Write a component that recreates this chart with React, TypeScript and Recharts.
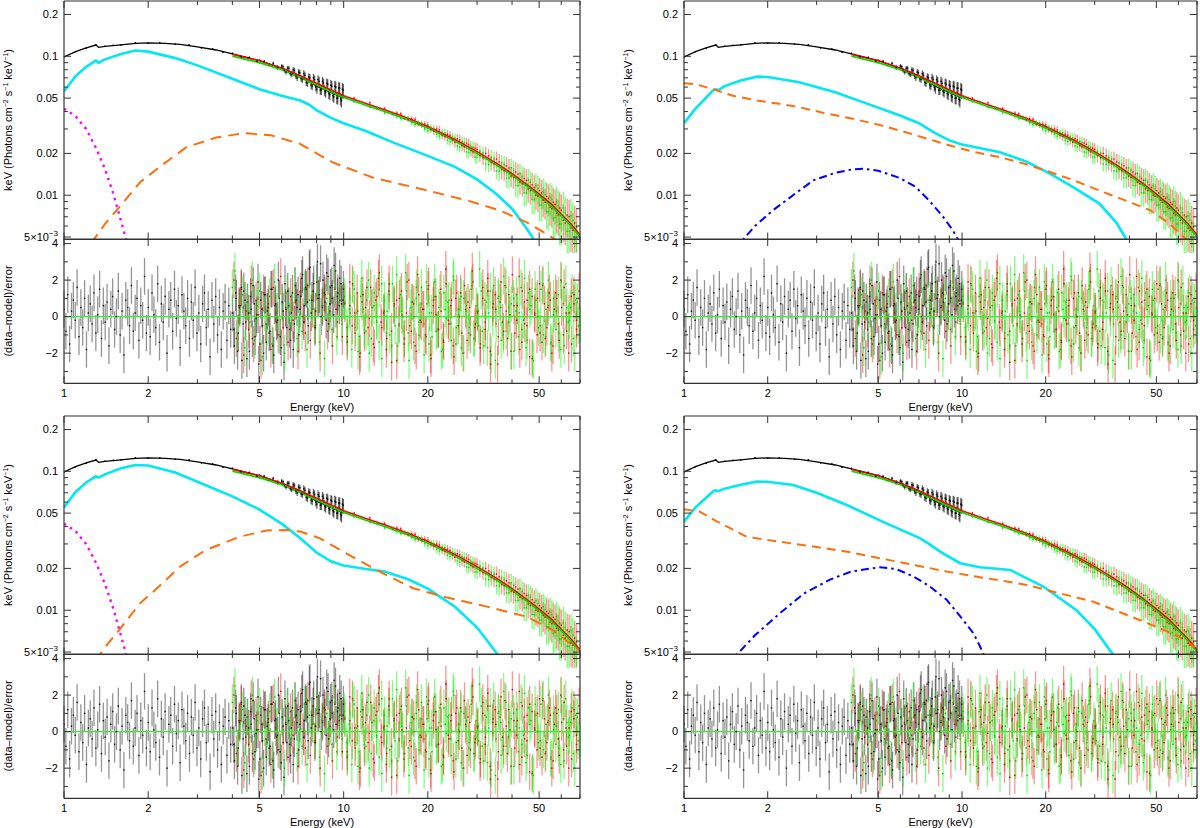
import React from 'react';
import { ComposedChart, Line, Scatter, ErrorBar, XAxis, YAxis, ReferenceLine } from 'recharts';

const FONT = '"Liberation Sans", Arial, Helvetica, sans-serif';
const AXIS = '#333';

// axis ticks
const xMajor = [1, 2, 5, 10, 20, 50];
const xMinor = [3, 4, 6, 7, 8, 9, 30, 40, 60, 70];
const specMajor = [0.005, 0.01, 0.02, 0.05, 0.1, 0.2];
const specMinor = [0.006, 0.007, 0.008, 0.009, 0.03, 0.04, 0.06, 0.07, 0.08, 0.09];
const resMajor = [-2, 0, 2, 4];
const resMinor = [-3, -1, 1, 3];

// total models (black instrument 1-10 keV, red / green 4-70 keV)
const blackModelE = [1.0, 1.1, 1.2, 1.3, 1.33, 1.4, 1.6, 1.8, 2.0, 2.3, 2.6, 3.0, 3.5, 4.0, 4.5, 5.0, 5.5, 6.0, 6.5, 7.0, 7.5, 8.0, 9.0, 10.0];
const blackModelF = [0.099, 0.108, 0.115, 0.1205, 0.116, 0.118, 0.121, 0.124, 0.125, 0.124, 0.122, 0.117, 0.111, 0.104, 0.098, 0.093, 0.087, 0.082, 0.077, 0.072, 0.066, 0.061, 0.055, 0.050];
const nuModelE = [4.0, 5, 6, 7, 8, 9, 10, 12, 14, 17, 20, 25, 30, 35, 40, 45, 50, 55, 60, 65, 70];
const greenModelF = [0.100, 0.090, 0.080, 0.070, 0.062, 0.0555, 0.0505, 0.0445, 0.040, 0.0348, 0.0303, 0.0245, 0.0200, 0.0166, 0.0139, 0.0117, 0.0099, 0.0084, 0.0071, 0.0060, 0.0050];
const redModelF = [0.103, 0.093, 0.082, 0.072, 0.064, 0.0572, 0.052, 0.0458, 0.0412, 0.0358, 0.0312, 0.0252, 0.0206, 0.0171, 0.0143, 0.0120, 0.0102, 0.0087, 0.0073, 0.0062, 0.0052];

// unfolded spectra (upper panels)
const blackSpecE = [1.0, 1.1, 1.2, 1.3, 1.4, 1.5, 1.6, 1.8, 2.0, 2.2, 2.5, 2.8, 3.1, 3.4, 3.7, 4.0, 4.3, 4.6, 4.9, 5.2, 5.4, 5.6, 5.8, 6.0, 6.15, 6.3, 6.45, 6.6, 6.75, 6.9, 7.05, 7.2, 7.35, 7.5, 7.65, 7.8, 7.95, 8.1, 8.25, 8.4, 8.55, 8.7, 8.85, 9.0, 9.15, 9.3, 9.45, 9.6, 9.75, 9.9];
const blackSpecF = [0.099, 0.108, 0.114, 0.121, 0.118, 0.120, 0.121, 0.125, 0.124, 0.125, 0.122, 0.121, 0.115, 0.113, 0.107, 0.105, 0.099, 0.098, 0.092, 0.092, 0.087, 0.089, 0.083, 0.085, 0.079, 0.082, 0.075, 0.080, 0.072, 0.077, 0.069, 0.075, 0.065, 0.071, 0.062, 0.070, 0.060, 0.068, 0.057, 0.066, 0.056, 0.064, 0.054, 0.062, 0.052, 0.061, 0.050, 0.059, 0.049, 0.058];
const blackRelErr = [0.006, 0.006, 0.006, 0.006, 0.006, 0.006, 0.006, 0.007, 0.007, 0.008, 0.008, 0.009, 0.010, 0.011, 0.012, 0.014, 0.016, 0.018, 0.020, 0.024, 0.026, 0.028, 0.030, 0.034, 0.036, 0.040, 0.042, 0.045, 0.048, 0.050, 0.053, 0.056, 0.060, 0.062, 0.065, 0.068, 0.070, 0.072, 0.075, 0.078, 0.080, 0.083, 0.086, 0.088, 0.090, 0.093, 0.096, 0.10, 0.10, 0.11];
const blackSpecE2 = [6.07, 6.22, 6.37, 6.52, 6.67, 6.82, 6.97, 7.12, 7.27, 7.42, 7.57, 7.72, 7.87, 8.02, 8.17, 8.32, 8.47, 8.62, 8.77, 8.92, 9.07, 9.22, 9.37, 9.52, 9.67, 9.82, 9.97];
const blackSpecF2 = [0.084, 0.077, 0.082, 0.074, 0.079, 0.070, 0.076, 0.068, 0.073, 0.064, 0.070, 0.061, 0.068, 0.058, 0.066, 0.057, 0.064, 0.055, 0.063, 0.053, 0.061, 0.051, 0.060, 0.050, 0.059, 0.048, 0.057];
const blackRelErr2 = [0.035, 0.038, 0.041, 0.044, 0.047, 0.05, 0.052, 0.055, 0.058, 0.061, 0.064, 0.067, 0.07, 0.072, 0.075, 0.078, 0.08, 0.083, 0.086, 0.088, 0.09, 0.093, 0.096, 0.1, 0.1, 0.11, 0.11];

const nuSpecE = [4.1, 4.4, 4.7, 5.0, 5.4, 5.8, 6.2, 6.6, 7.0, 7.5, 8.0, 8.5, 9.0, 9.6, 10.2, 10.9, 11.6, 12.4, 13.2, 14.0, 15, 16, 17, 18, 19, 20, 21, 22, 23, 24, 25, 26, 27, 28, 29, 30, 31.5, 33, 34.5, 36, 37.5, 39, 40.5, 42, 43.5, 45, 46.5, 48, 49.5, 51, 52.5, 54, 55.5, 57, 58.5, 60, 62, 64, 66, 68];
const greenSpecF = [0.100, 0.095, 0.094, 0.089, 0.087, 0.081, 0.079, 0.073, 0.071, 0.065, 0.063, 0.0578, 0.0562, 0.0518, 0.0508, 0.0472, 0.0468, 0.0430, 0.0426, 0.0391, 0.0390, 0.0356, 0.0359, 0.0322, 0.0330, 0.0291, 0.0302, 0.0266, 0.0281, 0.0243, 0.0258, 0.0222, 0.0240, 0.0203, 0.0221, 0.0188, 0.0201, 0.0166, 0.0182, 0.0148, 0.0166, 0.0133, 0.0151, 0.0117, 0.0136, 0.0104, 0.0124, 0.0093, 0.0112, 0.0085, 0.0101, 0.0076, 0.0093, 0.0069, 0.0084, 0.0062, 0.0075, 0.0055, 0.0066, 0.0048];
const redSpecF = [0.103, 0.099, 0.095, 0.094, 0.088, 0.085, 0.080, 0.077, 0.072, 0.069, 0.063, 0.0612, 0.0566, 0.0548, 0.0512, 0.0501, 0.0469, 0.0462, 0.0423, 0.0421, 0.0386, 0.0385, 0.0350, 0.0352, 0.0320, 0.0320, 0.0290, 0.0295, 0.0265, 0.0270, 0.0240, 0.0250, 0.0223, 0.0232, 0.0205, 0.0214, 0.0186, 0.0192, 0.0168, 0.0174, 0.0150, 0.0157, 0.0134, 0.0142, 0.0121, 0.0128, 0.0108, 0.0114, 0.0098, 0.0104, 0.0089, 0.0095, 0.0080, 0.0086, 0.0072, 0.0078, 0.0063, 0.0070, 0.0056, 0.0059];
const nuRelErr = [0.012, 0.012, 0.012, 0.012, 0.013, 0.013, 0.014, 0.014, 0.015, 0.015, 0.016, 0.017, 0.018, 0.019, 0.02, 0.022, 0.024, 0.026, 0.028, 0.03, 0.033, 0.036, 0.04, 0.045, 0.05, 0.055, 0.06, 0.065, 0.07, 0.075, 0.08, 0.085, 0.09, 0.095, 0.10, 0.105, 0.11, 0.12, 0.13, 0.14, 0.15, 0.16, 0.17, 0.18, 0.19, 0.20, 0.21, 0.22, 0.23, 0.24, 0.25, 0.26, 0.27, 0.28, 0.29, 0.30, 0.31, 0.32, 0.33, 0.34];
const nuSpecE2 = [15.5, 16.5, 17.5, 18.5, 19.5, 20.5, 21.5, 22.5, 23.5, 24.5, 25.5, 26.5, 27.5, 28.5, 29.5, 30.7, 32.2, 33.7, 35.2, 36.7, 38.2, 39.7, 41.2, 42.7, 44.2, 45.7, 47.2, 48.7, 50.2, 51.7, 53.2, 54.7, 56.2, 57.7, 59.2, 61, 63, 65, 67];
const greenSpecF2 = [0.0368, 0.0364, 0.0333, 0.0333, 0.0301, 0.0305, 0.0275, 0.0282, 0.0249, 0.0262, 0.0226, 0.0243, 0.0205, 0.0224, 0.0188, 0.0207, 0.0168, 0.0187, 0.0150, 0.0171, 0.0133, 0.0158, 0.0118, 0.0143, 0.0104, 0.0128, 0.0093, 0.0117, 0.0085, 0.0106, 0.0076, 0.0097, 0.0068, 0.0090, 0.0062, 0.0081, 0.0055, 0.0071, 0.0049];
const redSpecF2 = [0.0390, 0.0360, 0.0356, 0.0326, 0.0325, 0.0298, 0.0300, 0.0272, 0.0275, 0.0250, 0.0255, 0.0228, 0.0237, 0.0210, 0.0218, 0.0193, 0.0200, 0.0172, 0.0182, 0.0153, 0.0163, 0.0137, 0.0147, 0.0124, 0.0132, 0.0111, 0.0119, 0.0100, 0.0108, 0.0092, 0.0098, 0.0082, 0.0089, 0.0074, 0.0081, 0.0066, 0.0072, 0.0058, 0.0063];
const nuRelErr2 = [0.034, 0.038, 0.042, 0.047, 0.052, 0.057, 0.062, 0.067, 0.072, 0.077, 0.082, 0.087, 0.092, 0.097, 0.10, 0.107, 0.115, 0.125, 0.135, 0.145, 0.155, 0.165, 0.175, 0.185, 0.195, 0.205, 0.215, 0.225, 0.235, 0.245, 0.255, 0.265, 0.275, 0.285, 0.295, 0.305, 0.315, 0.325, 0.335];

// residuals (data-model)/error, bins spread over each band
const blackBand = [1.0, 9.95];
const blackBand2 = [4.05, 9.98];
const redBand = [4.05, 68];
const redBand2 = [10.3, 69.5];
const greenBand = [4.0, 69];
const greenBand2 = [10.1, 70];
const blackResid = [
  0.4, -0.8, 1.2, -1.5, 0.3, 0.9, -0.2, 1.6, -1.1, 0.5, -0.6, 1.0, -1.8, 0.2, 0.7, -0.4, 1.3, -0.9, 0.1, 1.5, -1.2, 0.6, -0.3, 0.8, -1.6, 0.4, 1.1, -0.7, 0.0, 1.4, -1.0, 0.3, -2.1, 0.9, 0.5, -0.5, 1.7, -0.8, 0.2, 1.0, -1.3, 0.6, -0.2, 2.2, -0.9,
  0.5, -1.1, 1.3, 0.1, -0.6, 1.8, -1.4, 0.7, -0.3, 1.1, -2.0, 0.4, 0.9, -0.8, 1.5, -0.1, 0.6, -1.7, 1.2, 0.3, -0.5, 1.0, -1.2, 0.8, -0.2, 1.6, -0.9, 0.2, -1.5, 0.7, 1.3, -0.6, 0.4, -2.2, 0.9, -0.4, 1.1, -1.0, 0.5, -1.8, 0.3, 0.8, -1.3, 0.6, -0.7,
  0.2, -1.6, 1.0, -0.9, 0.6, -2.4, 1.4, -0.3, 0.8, -1.9, 0.4, 1.7, -1.1, 0.1, -2.6, 0.9, -0.5, 1.2, -1.4, 0.5, -0.8, 1.5, -2.1, 0.7, -0.2, 1.0, -1.7, 0.3, 1.8, -0.6, 0.6, -1.3, 1.3, -0.4, 0.9,
  1.2, 0.4, 2.1, -0.3, 1.6, 0.8, 2.6, 0.2, 1.4, -0.6, 1.9, 1.0, 2.9, 0.5, 1.3, -0.2, 2.2, 0.7, 1.7, 0.1, 2.5, 1.1, 0.6, 1.8, 0.9,
];
const blackResid2 = [
  -0.7, 1.3, -1.9, 0.5, 1.6, -0.4, 0.9, -2.3, 0.2, 1.1, -1.2, 0.7, -0.1, 1.9, -1.5, 0.4, -2.0, 1.2, 0.3, -0.9, 1.5, -1.6, 0.6, -0.3, 2.0, -1.1, 0.8, -2.5, 0.4, 1.4, -0.7, 0.2, -1.8, 1.7, 0.5, -1.0, 1.1,
  2.3, 0.6, 1.5, -0.5, 2.7, 0.9, 1.8, 0.3, 3.0, 1.2, 0.0, 2.0, 0.8, 2.4, -0.4, 1.6, 1.0, 2.8, 0.4, 1.3, 2.1, 0.7, 1.5,
];
const redResid = [
  2.0, -1.2, 0.6, 1.5, -2.1, 0.3, -0.7, 1.8, -1.5, 0.9, 0.1, -2.4, 1.3, -0.4, 0.7, -1.8, 1.6, 0.2, -1.0, 2.2, -0.6, 0.5, -1.4, 1.1, -0.2, 0.8, -1.9, 1.4, 0.0, -0.9, 1.7, -1.3, 0.4, -0.5, 1.0, -2.0, 0.6, 1.2, -0.8, 0.3, -1.6, 1.5, -0.3, 0.9, -1.1,
  0.7, -1.4, 1.9, -0.5, 0.2, 1.3, -2.2, 0.8, -0.9, 1.6, -0.1, 0.5, -1.7, 1.1, 2.4, -0.6, 0.3, -1.2, 1.8, -2.5, 0.6, 0.9, -0.4, 1.4, -1.5, 0.2, 2.0, -0.8, 0.7, -1.9, 1.2, -0.3, 0.4, -1.1, 1.7, -2.3, 0.9, 0.1, -0.7, 1.5, -1.3, 2.6, -0.2, 0.6, -1.6, 1.0, -0.5, 1.3, -2.0, 0.4, 0.8, -1.0, 1.9, -0.4,
  0.3, -1.5, 1.6, -0.7, 2.1, -1.9, 0.5, 1.2, -2.6, 0.8, -0.3, 1.7, -1.2, 0.1, 2.3, -0.9, 0.6, -1.8, 1.4, -0.4, 0.9, -2.2, 1.1, 0.2, -1.0, 1.8, -1.4, 0.7, -0.6, 1.3, -2.0, 0.4, 1.0, -1.3, 0.5, 1.6, -0.8, 0.2, -1.5, 1.2, -0.2,
];
const redResid2 = [
  -1.1, 0.6, 1.8, -0.9, 0.3, -2.0, 1.2, 0.5, -0.6, 1.6, -1.5, 0.9, 2.1, -0.3, 0.2, -1.8, 1.4, -0.8, 0.7, -2.4,
  1.0, 0.1, -1.2, 1.9, -0.5, 0.8, -1.6, 2.3, -0.2, 0.4, -1.0, 1.5, -2.1, 0.6, 1.1, -0.7, 0.3, -1.4, 1.8, -0.4,
  0.9, -2.2, 1.3, 0.0, -0.9, 1.7, -1.3, 0.5, 2.5, -0.6, 0.2, -1.7, 1.0, -0.3, 1.4, -2.6, 0.7, 0.4, -1.1, 1.9,
  -0.8, 0.3, 1.2, -1.9, 0.6, -0.2, 2.2, -1.4, 0.8, -0.5, 1.5, -2.3, 0.1, 1.0, -0.9, 1.7, -1.2, 0.5, 0.9, -1.6,
  1.3, -0.4, 2.0, -1.0, 0.2, -2.0, 1.1, 0.7, -0.7, 1.4,
];
const greenResid = [
  1.6, 2.5, -0.9, 0.4, 1.2, -1.7, 0.8, -0.3, 2.0, -1.3, 0.6, 1.4, -2.2, 0.2, -0.6, 1.1, -1.5, 1.9, 0.3, -1.0, 0.7, -2.0, 1.3, -0.2, 0.5, 1.7, -1.2, 0.1, -0.8, 1.5, -1.8, 0.9, 0.4, -0.5, 1.2, -1.4, 0.6, -2.3, 1.0, 0.2, -0.7, 1.6, -1.1, 0.8, -0.4,
  1.1, -0.6, 0.4, -1.8, 1.5, 0.2, -1.1, 2.1, -0.7, 0.9, -2.0, 0.5, 1.3, -0.3, -1.4, 1.8, 0.1, -0.9, 1.2, -1.6, 0.6, 2.3, -0.5, 0.3, -1.2, 1.4, -2.4, 0.8, 0.0, 1.6, -1.0, 0.7, -0.4, 1.9, -1.5, 0.2, 1.1, -0.8, 0.5, -1.9, 1.3, -0.1, 0.9, -1.3, 2.0, -0.6, 0.4, -1.7, 1.0, 0.3, -0.9, 1.5, -1.2, 0.6,
  -0.5, 1.4, -1.6, 0.8, 0.2, -2.1, 1.7, -0.4, 1.1, -1.3, 2.2, -0.8, 0.5, -1.9, 1.0, 0.3, -1.1, 1.6, -0.2, -1.7, 1.3, 0.6, -2.4, 0.9, -0.6, 1.5, -1.0, 0.4, 2.0, -1.4, 0.1, -0.7, 1.2, -1.8, 0.7, 1.8, -0.3, 0.5, -1.2, 0.9, -0.5,
];
const greenResid2 = [
  0.8, -1.3, 0.2, 1.7, -0.6, -1.9, 1.1, 0.4, -0.8, 2.0, -1.2, 0.6, -0.2, 1.5, -2.3, 0.9, 0.3, -1.0, 1.8, -0.5,
  -1.6, 1.2, 0.0, 2.4, -0.9, 0.5, -1.4, 1.0, -0.3, 1.6, -2.1, 0.7, 0.2, -1.1, 1.9, -0.7, 1.3, -1.8, 0.4, 0.8,
  -0.4, 2.2, -1.5, 0.1, 1.1, -2.0, 0.6, -0.6, 1.7, -1.2, 0.3, 2.6, -0.8, 0.9, -1.7, 1.4, -0.1, -2.4, 1.0, 0.5,
  -1.0, 1.6, -0.3, 0.7, -1.9, 1.2, 0.2, -0.7, 2.1, -1.3, 0.4, -2.2, 1.5, 0.0, -0.5, 1.8, -1.1, 0.6, -1.5, 1.0,
  0.3, -0.9, 1.9, -1.6, 0.5, -0.2, 1.3, -2.0, 0.8, -0.4,
];

// model components, one set per panel
const magentaE = [1.0, 1.1, 1.2, 1.3, 1.4, 1.5, 1.6, 1.7];
const magentaF = [0.042, 0.037, 0.030, 0.022, 0.0155, 0.0103, 0.0065, 0.0042];

const cyan1E = [1.0, 1.1, 1.2, 1.3, 1.33, 1.4, 1.6, 1.8, 2.0, 2.5, 3.0, 4.0, 5.0, 6.0, 7.0, 7.5, 8.0, 9.0, 10, 12, 15, 20, 25, 30, 35, 40, 45, 50];
const cyan1F = [0.056, 0.072, 0.084, 0.093, 0.090, 0.095, 0.104, 0.110, 0.108, 0.097, 0.086, 0.069, 0.058, 0.052, 0.048, 0.045, 0.041, 0.036, 0.033, 0.029, 0.024, 0.0192, 0.016, 0.013, 0.0103, 0.008, 0.0058, 0.0042];
const orange1E = [1.25, 1.4, 1.6, 1.87, 2.2, 2.74, 3.5, 4.4, 5.5, 6.96, 9.1, 12.7, 16, 20, 28, 36, 45, 52, 60];
const orange1F = [0.0045, 0.0062, 0.0085, 0.0124, 0.016, 0.0222, 0.026, 0.028, 0.027, 0.0235, 0.0173, 0.0134, 0.0120, 0.0108, 0.0091, 0.0078, 0.0064, 0.0054, 0.0045];

const cyan2E = [1.0, 1.1, 1.27, 1.3, 1.33, 1.4, 1.6, 1.83, 2.0, 2.6, 3.5, 4.5, 5.98, 7.0, 8.0, 9.05, 10, 13.7, 17, 20.7, 25, 31.2, 36, 39, 42];
const cyan2F = [0.033, 0.042, 0.0566, 0.058, 0.057, 0.061, 0.067, 0.0714, 0.071, 0.065, 0.055, 0.046, 0.0375, 0.033, 0.028, 0.0247, 0.0232, 0.0204, 0.0175, 0.0143, 0.0115, 0.0087, 0.0063, 0.0048, 0.0036];
const orange2E = [1.0, 1.1, 1.27, 1.5, 1.83, 2.2, 2.6, 3.2, 4.05, 5.0, 5.98, 7.5, 9.05, 11, 13.7, 17, 20.7, 25, 31.2, 38, 47.5, 56, 64, 70];
const orange2F = [0.064, 0.063, 0.058, 0.052, 0.048, 0.0455, 0.043, 0.039, 0.0355, 0.0322, 0.0292, 0.0255, 0.0228, 0.0205, 0.0188, 0.0167, 0.0147, 0.0129, 0.0108, 0.0093, 0.0078, 0.0062, 0.0048, 0.0040];
const blue2E = [1.55, 1.63, 1.8, 2.09, 2.5, 2.92, 3.5, 4.0, 4.4, 5.0, 5.98, 6.8, 7.6, 8.5, 9.2, 9.58, 9.8];
const blue2F = [0.0040, 0.0048, 0.0060, 0.0078, 0.0102, 0.0128, 0.0145, 0.0153, 0.0155, 0.0150, 0.0133, 0.0115, 0.0092, 0.0071, 0.0057, 0.0050, 0.0045];

const cyan3E = [1.0, 1.1, 1.2, 1.3, 1.33, 1.4, 1.6, 1.8, 2.0, 2.5, 3.0, 4.0, 5.0, 6.0, 7.0, 8.0, 9.0, 10, 12, 14, 17, 20, 25, 30, 35, 38];
const cyan3F = [0.055, 0.071, 0.083, 0.092, 0.090, 0.095, 0.105, 0.111, 0.110, 0.098, 0.084, 0.066, 0.053, 0.042, 0.033, 0.026, 0.0225, 0.021, 0.0198, 0.019, 0.0167, 0.0143, 0.0106, 0.0075, 0.0050, 0.0038];
const orange3E = [1.3, 1.38, 1.6, 1.87, 2.2, 2.6, 3.2, 4.25, 5.3, 6.3, 7.0, 8.2, 10.2, 13.4, 17.7, 23.2, 32, 45, 56, 70];
const orange3F = [0.0043, 0.0052, 0.0075, 0.0112, 0.015, 0.0206, 0.027, 0.0338, 0.0375, 0.0378, 0.0368, 0.033, 0.0257, 0.019, 0.0144, 0.0124, 0.0107, 0.009, 0.0072, 0.0051];

const cyan4E = [1.0, 1.1, 1.27, 1.3, 1.33, 1.4, 1.6, 1.83, 2.0, 2.47, 3.0, 3.85, 5.34, 7.05, 7.6, 8.34, 9.84, 11.6, 14.9, 19.6, 25.8, 30, 34.9, 37];
const cyan4F = [0.0434, 0.055, 0.0713, 0.073, 0.072, 0.075, 0.080, 0.0842, 0.084, 0.0797, 0.070, 0.0572, 0.0422, 0.033, 0.030, 0.0264, 0.0218, 0.0204, 0.0195, 0.0148, 0.010, 0.0073, 0.0048, 0.0039];
const orange4E = [1.0, 1.14, 1.3, 1.5, 1.68, 2.21, 3.0, 3.85, 5.82, 8.8, 11.6, 17.1, 29.7, 44.9, 60, 70];
const orange4F = [0.0533, 0.0512, 0.044, 0.038, 0.0338, 0.0311, 0.0285, 0.0264, 0.0224, 0.019, 0.0173, 0.0152, 0.0115, 0.0083, 0.0065, 0.0053];
const blue4E = [1.45, 1.55, 1.8, 2.21, 2.7, 3.35, 4.0, 5.06, 5.8, 6.68, 7.6, 8.8, 10, 11.0, 11.6, 11.9, 12.2];
const blue4F = [0.0040, 0.0048, 0.0066, 0.0095, 0.0132, 0.0166, 0.019, 0.0204, 0.0198, 0.0175, 0.015, 0.0119, 0.0087, 0.0068, 0.0055, 0.0049, 0.0044];

const CYAN = '#00e8f2';
const ORANGE = '#ff6e0a';

type Pt = { x: number; y: number; err?: number };
const pts = (e: number[], f: number[]): Pt[] => e.map((x, i) => ({ x, y: f[i] }));
const logGrid = (lo: number, hi: number, n: number) =>
  Array.from({ length: n }, (_, i) => lo * Math.pow(hi / lo, i / (n - 1)));
const resid = (band: number[], r: number[]): Pt[] => {
  const g = logGrid(band[0], band[1], r.length);
  return r.map((y, i) => ({ x: g[i], y, err: 1 }));
};
const spec = (e: number[], f: number[], rel: number[]): Pt[] => e.map((x, i) => ({ x, y: f[i], err: f[i] * rel[i] }));

const blackSpec = [...spec(blackSpecE, blackSpecF, blackRelErr), ...spec(blackSpecE2, blackSpecF2, blackRelErr2)];
const redSpec = [...spec(nuSpecE, redSpecF, nuRelErr), ...spec(nuSpecE2, redSpecF2, nuRelErr2)];
const greenSpec = [...spec(nuSpecE, greenSpecF, nuRelErr), ...spec(nuSpecE2, greenSpecF2, nuRelErr2)];
const blackRes = [...resid(blackBand, blackResid), ...resid(blackBand2, blackResid2)];
const redRes = [...resid(redBand, redResid), ...resid(redBand2, redResid2)];
const greenRes = [...resid(greenBand, greenResid), ...resid(greenBand2, greenResid2)];

type Comp = { data: Pt[]; color: string; width: number; dash?: string };
const panels: Comp[][] = [
  [
    { data: pts(cyan1E, cyan1F), color: CYAN, width: 2.6 },
    { data: pts(orange1E, orange1F), color: ORANGE, width: 2, dash: '11 7' },
    { data: pts(magentaE, magentaF), color: '#ff00ff', width: 2.4, dash: '2.5 4.5' },
  ],
  [
    { data: pts(cyan2E, cyan2F), color: CYAN, width: 2.6 },
    { data: pts(orange2E, orange2F), color: ORANGE, width: 2, dash: '9 6' },
    { data: pts(blue2E, blue2F), color: '#0000ff', width: 2, dash: '8 4 2.5 4' },
  ],
  [
    { data: pts(cyan3E, cyan3F), color: CYAN, width: 2.6 },
    { data: pts(orange3E, orange3F), color: ORANGE, width: 2, dash: '11 7' },
    { data: pts(magentaE, magentaF), color: '#ff00ff', width: 2.4, dash: '2.5 4.5' },
  ],
  [
    { data: pts(cyan4E, cyan4F), color: CYAN, width: 2.6 },
    { data: pts(orange4E, orange4F), color: ORANGE, width: 2, dash: '9 6' },
    { data: pts(blue4E, blue4F), color: '#0000ff', width: 2, dash: '8 4 2.5 4' },
  ],
];

// layout (axes are 1px thick, margins are trimmed by that pixel)
const ML = 64;
const PAD = 10;
const TOP_H = 238.5;
const RES_H = 144.3;
const COLS = [
  { left: 0, width: 600, plotW: 516 },
  { left: 620, width: 580, plotW: 513 },
];
const ROWS = [{ top: 0.5 }, { top: 415.7 }];

const xTick = (side: 'top' | 'bottom', labels: boolean) => (p: any) => {
  const v = p.payload.value;
  const major = xMajor.includes(v);
  const d = side === 'bottom' ? -1 : 1;
  return (
    <g>
      <line x1={p.x} x2={p.x} y1={p.y} y2={p.y + d * (major ? 7 : 4)} stroke={AXIS} strokeWidth={1} />
      {labels && major ? (
        <text x={p.x} y={p.y + 14} textAnchor="middle" fontSize={11} fontFamily={FONT} fill="#000">{v}</text>
      ) : null}
    </g>
  );
};

const specLabel = (v: number) =>
  v === 0.005 ? (
    <>
      5×10<tspan dy={-5} fontSize={8}>−3</tspan>
    </>
  ) : (
    String(v)
  );
const resLabel = (v: number) => (v < 0 ? `−${-v}` : String(v));

const yTick = (side: 'left' | 'right', major: number[], fmt: ((v: number) => any) | null) => (p: any) => {
  const v = p.payload.value;
  const isMajor = major.includes(v);
  const d = side === 'left' ? 1 : -1;
  return (
    <g>
      <line x1={p.x} x2={p.x + d * (isMajor ? 7 : 4)} y1={p.y} y2={p.y} stroke={AXIS} strokeWidth={1} />
      {fmt && isMajor ? (
        <text x={p.x - 6} y={p.y} dy="0.35em" textAnchor="end" fontSize={11} fontFamily={FONT} fill="#000">
          {fmt(v)}
        </text>
      ) : null}
    </g>
  );
};

const frame = (kind: 'spec' | 'res', xLabels: boolean) => {
  const isSpec = kind === 'spec';
  const yProps = {
    type: 'number' as const,
    dataKey: 'y',
    scale: isSpec ? ('log' as const) : ('linear' as const),
    domain: isSpec ? [0.0048, 0.25] : [-3.65, 4.25],
    allowDataOverflow: true,
    ticks: isSpec ? [...specMajor, ...specMinor] : [...resMajor, ...resMinor],
    interval: 0 as const,
    tickLine: false,
    tickSize: 0,
    tickMargin: 0,
    width: 1,
    axisLine: { stroke: AXIS, strokeWidth: 1.2 },
  };
  const xProps = {
    type: 'number' as const,
    dataKey: 'x',
    scale: 'log' as const,
    domain: [1, 70],
    allowDataOverflow: true,
    ticks: [...xMajor, ...xMinor],
    interval: 0 as const,
    tickLine: false,
    tickSize: 0,
    tickMargin: 0,
    height: 1,
    axisLine: { stroke: AXIS, strokeWidth: 1.2 },
  };
  const major = isSpec ? specMajor : resMajor;
  return [
    <XAxis key="xb" xAxisId="b" {...xProps} tick={xTick('bottom', xLabels)} />,
    <XAxis key="xt" xAxisId="t" orientation="top" {...xProps} tick={xTick('top', false)} />,
    <YAxis key="yl" yAxisId="l" {...yProps} tick={yTick('left', major, isSpec ? specLabel : resLabel)} />,
    <YAxis key="yr" yAxisId="r" orientation="right" {...yProps} tick={yTick('right', major, null)} />,
  ];
};

const dot = (fill: string) => (p: any) =>
  p.cx == null ? <g /> : <rect x={p.cx - 0.7} y={p.cy - 0.7} width={1.4} height={1.4} fill={fill} />;

const dataSet = (key: string, data: Pt[], bar: string, fill: string, w: number) => (
  <Scatter key={key} data={data} xAxisId="b" yAxisId="l" isAnimationActive={false} shape={dot(fill)}>
    <ErrorBar dataKey="err" direction="y" width={0} stroke={bar} strokeWidth={w} isAnimationActive={false} />
  </Scatter>
);

const modelLine = (key: string, data: Pt[], color: string, width: number, dash?: string) => (
  <Line
    key={key}
    data={data}
    dataKey="y"
    xAxisId="b"
    yAxisId="l"
    type="linear"
    stroke={color}
    strokeWidth={width}
    strokeDasharray={dash}
    dot={false}
    activeDot={false}
    isAnimationActive={false}
  />
);

function Panel({ col, row, comps }: { col: (typeof COLS)[number]; row: (typeof ROWS)[number]; comps: Comp[] }) {
  const mr = col.width - ML - col.plotW;
  const resTop = row.top + TOP_H;
  const resBottom = resTop + RES_H;
  const titleStyle: React.CSSProperties = {
    position: 'absolute',
    fontFamily: FONT,
    fontSize: 11,
    lineHeight: '14px',
    textAlign: 'center',
    whiteSpace: 'nowrap',
    color: '#000',
  };
  const sup: React.CSSProperties = { fontSize: 7, verticalAlign: 'super', lineHeight: 0 };
  const topM = { top: PAD - 1, right: mr - 1, bottom: 13, left: ML - 1 };
  const resM = { top: PAD - 1, right: mr - 1, bottom: 23, left: ML - 1 };
  return (
    <>
      <div style={{ position: 'absolute', left: col.left, top: row.top - PAD }}>
        <ComposedChart width={col.width} height={PAD + TOP_H + 14} margin={topM}>
          {frame('spec', false)}
          {dataSet('bs', blackSpec, 'rgba(0,0,0,0.6)', '#000', 1.3)}
          {dataSet('rs', redSpec, 'rgba(255,0,0,0.4)', '#ff0000', 1.4)}
          {dataSet('gs', greenSpec, 'rgba(0,255,0,0.5)', '#00e000', 1.4)}
          {modelLine('bm', pts(blackModelE, blackModelF), '#000', 1.3)}
          {modelLine('rm', pts(nuModelE, redModelF), '#ff0000', 1.6)}
          {modelLine('gm', pts(nuModelE, greenModelF), '#00dd00', 1.6)}
          {comps.map((c, i) => modelLine(`c${i}`, c.data, c.color, c.width, c.dash))}
        </ComposedChart>
      </div>
      <div style={{ position: 'absolute', left: col.left, top: resTop - PAD }}>
        <ComposedChart width={col.width} height={PAD + RES_H + 24} margin={resM}>
          {frame('res', true)}
          {dataSet('br', blackRes, 'rgba(0,0,0,0.42)', '#111', 1.3)}
          {dataSet('rr', redRes, 'rgba(255,0,0,0.42)', '#d00000', 1.3)}
          {dataSet('gr', greenRes, 'rgba(0,255,0,0.5)', '#00c000', 1.3)}
          <ReferenceLine xAxisId="b" yAxisId="l" y={0} stroke="#33ee33" strokeWidth={1.2} />
        </ComposedChart>
      </div>
      <div style={{ ...titleStyle, left: col.left + ML + col.plotW / 2 - 60, width: 120, top: resBottom + 23.5 - 7 }}>
        Energy (keV)
      </div>
      <div
        style={{
          ...titleStyle,
          left: col.left + 8 - TOP_H / 2,
          width: TOP_H,
          top: row.top + TOP_H / 2 - 7,
          transform: 'rotate(-90deg)',
        }}
      >
        keV (Photons cm<span style={sup}>−2</span> s<span style={sup}>−1</span> keV<span style={sup}>−1</span>)
      </div>
      <div
        style={{
          ...titleStyle,
          left: col.left + 8 - RES_H / 2,
          width: RES_H,
          top: resTop + RES_H / 2 - 7,
          transform: 'rotate(-90deg)',
        }}
      >
        (data–model)/error
      </div>
    </>
  );
}

export default function App() {
  return (
    <div style={{ position: 'absolute', left: 0, top: 0, width: 1200, height: 828, background: '#fff', overflow: 'hidden' }}>
      <Panel col={COLS[0]} row={ROWS[0]} comps={panels[0]} />
      <Panel col={COLS[1]} row={ROWS[0]} comps={panels[1]} />
      <Panel col={COLS[0]} row={ROWS[1]} comps={panels[2]} />
      <Panel col={COLS[1]} row={ROWS[1]} comps={panels[3]} />
    </div>
  );
}
